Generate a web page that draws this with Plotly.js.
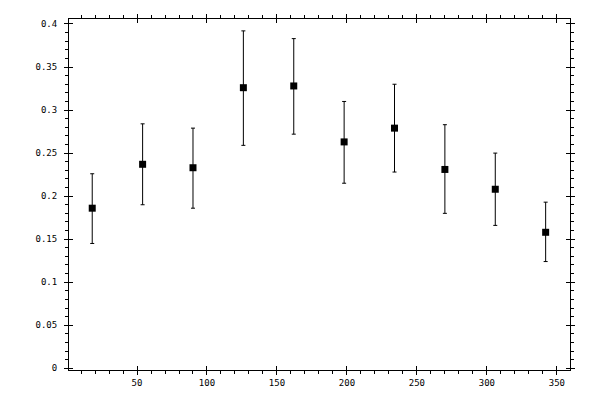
<!DOCTYPE html>
<html>
<head>
<meta charset="utf-8">
<script src="https://cdn.plot.ly/plotly-3.0.1.min.js"></script>
<style>html,body{margin:0;padding:0;background:#fff;}#plot{width:600px;height:400px;}</style>
</head>
<body>
<div id="plot"></div>
<script>
var xValues = [18, 54, 90, 126, 162, 198, 234, 270, 306, 342];
var yValues = [0.186, 0.237, 0.233, 0.326, 0.328, 0.263, 0.279, 0.231, 0.208, 0.158];
var yUpper  = [0.226, 0.284, 0.279, 0.392, 0.383, 0.310, 0.330, 0.283, 0.250, 0.193];
var yLower  = [0.145, 0.190, 0.186, 0.259, 0.272, 0.215, 0.228, 0.180, 0.166, 0.124];

var errPlus = yValues.map(function(v, i){ return yUpper[i] - v; });
var errMinus = yValues.map(function(v, i){ return v - yLower[i]; });

var xRange = [1.4, 359.4];
var yRange = [-0.002, 0.4058];
var tickFont = {family: 'DejaVu Sans Mono, monospace', size: 9, color: '#000'};

var trace = {
  x: xValues, y: yValues, type: 'scatter', mode: 'markers',
  marker: {symbol: 'square', size: 7, color: '#000'},
  error_y: {type: 'data', symmetric: false, array: errPlus, arrayminus: errMinus,
            color: '#000', thickness: 1, width: 2},
  hoverinfo: 'none', showlegend: false
};
// invisible trace on overlay axes so they get drawn
var dummy = {x: [xRange[0]], y: [yRange[0]], xaxis: 'x2', yaxis: 'y2', type: 'scatter',
  mode: 'markers', marker: {opacity: 0}, hoverinfo: 'none', showlegend: false};

var layout = {
  width: 600, height: 400,
  margin: {l: 69, r: 30, t: 19, b: 30},
  paper_bgcolor: '#fff', plot_bgcolor: '#fff',
  xaxis: {range: xRange, showgrid: false, zeroline: false, showline: true, linecolor: '#000', linewidth: 1,
          mirror: 'allticks', ticks: 'outside', ticklen: 4, tickwidth: 1, tickcolor: '#000',
          tick0: 0, dtick: 50, tickfont: tickFont,
          minor: {ticks: 'outside', ticklen: 3, tickwidth: 1, tickcolor: '#000', dtick: 10, tick0: 0, showgrid: false}},
  yaxis: {range: yRange, showgrid: false, zeroline: false, showline: true, linecolor: '#000', linewidth: 1,
          mirror: 'allticks', ticks: 'outside', ticklen: 4, tickwidth: 1, tickcolor: '#000',
          tick0: 0, dtick: 0.05, tickfont: tickFont, ticklabelstandoff: 5,
          minor: {ticks: 'outside', ticklen: 3, tickwidth: 1, tickcolor: '#000', dtick: 0.01, tick0: 0, showgrid: false}},
  xaxis2: {overlaying: 'x', range: xRange, showgrid: false, zeroline: false, showline: false,
           mirror: 'allticks', ticks: 'inside', ticklen: 4, tickwidth: 1, tickcolor: '#000',
           tick0: 0, dtick: 50, showticklabels: false},
  yaxis2: {overlaying: 'y', range: yRange, showgrid: false, zeroline: false, showline: false,
           mirror: 'allticks', ticks: 'inside', ticklen: 4, tickwidth: 1, tickcolor: '#000',
           tick0: 0, dtick: 0.05, showticklabels: false}
};

Plotly.newPlot('plot', [trace, dummy], layout, {staticPlot: true});
</script>
</body>
</html>
